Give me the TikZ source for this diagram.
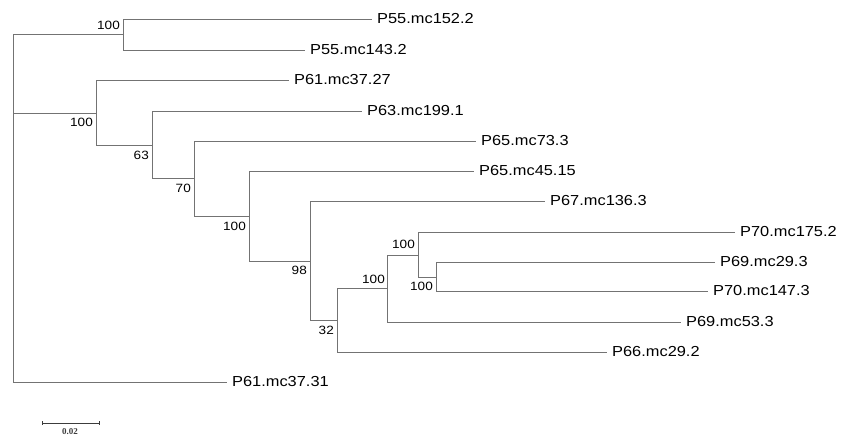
\documentclass[tikz,border=0pt]{standalone}
\usepackage{fontspec}
\setmainfont{Liberation Sans}
\newfontfamily\treefont[FakeStretch=1.13]{Liberation Sans}
\newfontfamily\barfont{Liberation Serif}
\definecolor{branch}{RGB}{115,115,115}
\definecolor{bardark}{RGB}{60,60,60}
\begin{document}
\begin{tikzpicture}[x=1pt,y=-1pt,
  edge/.style={draw=branch,line width=0.9pt},
  leaf/.style={anchor=west,inner xsep=5pt,inner ysep=1pt,font=\treefont\fontsize{14.5}{16}\selectfont},
  supp/.style={anchor=east,inner sep=0pt,font=\treefont\fontsize{12}{14}\selectfont},
  scalelbl/.style={inner sep=0pt,font=\barfont\bfseries\fontsize{9}{10}\selectfont,text=bardark}]
\useasboundingbox (0,0) rectangle (843,436);
% internal nodes
\coordinate (root) at (13,113);
\coordinate (n1) at (123,34);
\coordinate (n2) at (96,113);
\coordinate (n3) at (152,145);
\coordinate (n4) at (194,178);
\coordinate (n5) at (249,216);
\coordinate (n6) at (310,261);
\coordinate (n7) at (337,320);
\coordinate (n8) at (387,288);
\coordinate (n9) at (418,255);
\coordinate (n10) at (436,277);
% leaves
\node[leaf] (L1) at (372,19) {P55.mc152.2};
\node[leaf] (L2) at (305,50) {P55.mc143.2};
\node[leaf] (L3) at (289,80) {P61.mc37.27};
\node[leaf] (L4) at (362,111) {P63.mc199.1};
\node[leaf] (L5) at (476,141) {P65.mc73.3};
\node[leaf] (L6) at (474,171) {P65.mc45.15};
\node[leaf] (L7) at (545,201) {P67.mc136.3};
\node[leaf] (L8) at (735,232) {P70.mc175.2};
\node[leaf] (L9) at (715,262) {P69.mc29.3};
\node[leaf] (L10) at (708,291) {P70.mc147.3};
\node[leaf] (L11) at (681,322) {P69.mc53.3};
\node[leaf] (L12) at (607,352) {P66.mc29.2};
\node[leaf] (L13) at (227,382) {P61.mc37.31};
% branches
\draw[edge] (root) |- (n1);
\draw[edge] (root) -- (n2);
\draw[edge] (root) |- (L13.west);
\draw[edge] (n1) |- (L1.west);
\draw[edge] (n1) |- (L2.west);
\draw[edge] (n2) |- (L3.west);
\draw[edge] (n2) |- (n3);
\draw[edge] (n3) |- (L4.west);
\draw[edge] (n3) |- (n4);
\draw[edge] (n4) |- (L5.west);
\draw[edge] (n4) |- (n5);
\draw[edge] (n5) |- (L6.west);
\draw[edge] (n5) |- (n6);
\draw[edge] (n6) |- (L7.west);
\draw[edge] (n6) |- (n7);
\draw[edge] (n7) |- (n8);
\draw[edge] (n7) |- (L12.west);
\draw[edge] (n8) |- (n9);
\draw[edge] (n8) |- (L11.west);
\draw[edge] (n9) |- (L8.west);
\draw[edge] (n9) |- (n10);
\draw[edge] (n10) |- (L9.west);
\draw[edge] (n10) |- (L10.west);
% support values
\node[supp] (s1) at ([shift={(-3,-9)}]n1) {100};
\node[supp] (s2) at ([shift={(-3,9)}]n2) {100};
\node[supp] (s3) at ([shift={(-3,10)}]n3) {63};
\node[supp] (s4) at ([shift={(-3,10)}]n4) {70};
\node[supp] (s5) at ([shift={(-3,10)}]n5) {100};
\node[supp] (s6) at ([shift={(-3,9)}]n6) {98};
\node[supp] (s7) at ([shift={(-3,10)}]n7) {32};
\node[supp] (s8) at ([shift={(-2,-9)}]n8) {100};
\node[supp] (s9) at ([shift={(-3,-11)}]n9) {100};
\node[supp] (s10) at ([shift={(-3,9)}]n10) {100};
% scale bar
\coordinate (sbl) at (42,423);
\coordinate (sbr) at (99,423);
\draw[draw=bardark,line width=0.8pt] (sbl) -- (sbr);
\draw[draw=bardark,line width=0.6pt] ([yshift=-2]sbl) -- ([yshift=2]sbl);
\draw[draw=bardark,line width=0.6pt] ([yshift=-2]sbr) -- ([yshift=2]sbr);
\node[scalelbl] (sbt) at (70,432) {0.02};
\end{tikzpicture}
\end{document}
